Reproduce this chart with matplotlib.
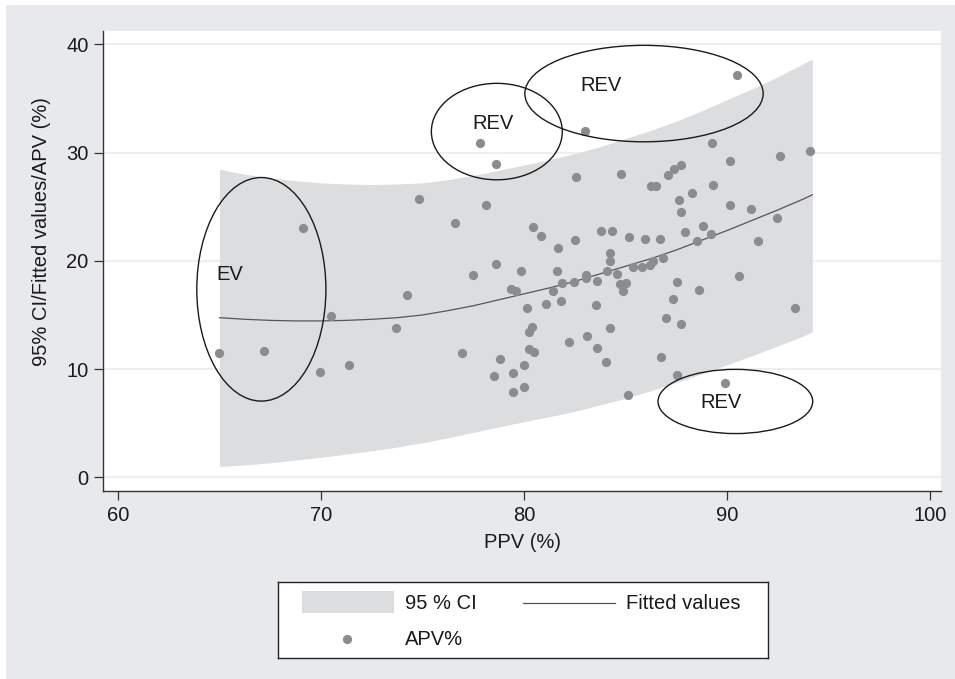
import matplotlib
matplotlib.use("Agg")
import matplotlib.pyplot as plt
from matplotlib.patches import Ellipse, Rectangle

plt.rcParams['font.family'] = ['Liberation Sans', 'DejaVu Sans']

# APV% vs PPV% points
ppv = [77.82, 78.63, 74.85, 78.15, 76.59, 69.11, 78.64, 77.49, 79.84, 90.50,
       83.02, 89.28, 94.07, 92.62, 90.17, 87.72, 87.39, 87.09, 82.56, 84.77,
       86.24, 86.49, 89.33, 88.29, 87.64, 90.17, 91.19, 87.72, 92.47, 80.43,
       80.86, 81.65, 82.51, 83.81, 84.31, 85.17, 85.95, 86.69, 87.93, 88.81,
       89.21, 88.52, 91.52, 84.23, 84.23, 86.87, 86.37, 86.21, 85.80, 85.37,
       84.60, 84.10, 83.03, 83.03, 81.62, 90.59, 81.88, 82.44, 83.61, 79.34,
       79.58, 81.45, 81.80, 81.08, 80.14, 83.53, 84.73, 85.04, 84.87, 87.55,
       88.61, 87.34, 93.34, 87.01, 87.73, 84.23, 80.39, 80.24, 82.21, 83.12,
       83.60, 84.02, 80.24, 80.48, 78.84, 80.02, 79.45, 80.02, 79.45, 85.11,
       86.73, 87.55, 89.90, 64.98, 67.17, 69.96, 71.36, 70.51, 73.68, 74.24,
       76.93, 78.54]
apv = [30.84, 28.97, 25.71, 25.19, 23.47, 23.04, 19.72, 18.65, 19.07, 37.17,
       31.98, 30.84, 30.17, 29.68, 29.18, 28.85, 28.48, 27.95, 27.71, 28.05,
       26.94, 26.94, 27.03, 26.23, 25.65, 25.19, 24.82, 24.48, 23.93, 23.10,
       22.27, 21.20, 21.94, 22.73, 22.73, 22.24, 22.03, 21.99, 22.64, 23.22,
       22.49, 21.87, 21.87, 20.76, 20.03, 20.24, 20.03, 19.57, 19.45, 19.47,
       18.83, 19.08, 18.72, 18.37, 19.10, 18.56, 17.94, 18.09, 18.18, 17.42,
       17.26, 17.17, 16.31, 15.97, 15.67, 15.88, 17.82, 17.97, 17.20, 18.09,
       17.33, 16.50, 15.67, 14.75, 14.13, 13.82, 13.92, 13.46, 12.50, 13.02,
       11.95, 10.66, 11.89, 11.58, 10.97, 10.38, 9.61, 8.35, 7.86, 7.61,
       11.12, 9.43, 8.72, 11.49, 11.67, 9.77, 10.38, 14.87, 13.79, 16.80,
       11.49, 9.37]

# fitted curve and 95% band, read at these PPV values
fit_x = [65, 66.25, 67.5, 68.75, 70, 71.25, 72.5, 73.75, 75, 76.25, 77.5, 78.75,
         80, 81.25, 82.5, 83.75, 85, 86.25, 87.5, 88.75, 90, 91.25, 92.5, 93.75, 94.2]
fit_y = [14.75, 14.6, 14.5, 14.45, 14.45, 14.5, 14.6, 14.75, 15.0, 15.4, 15.85, 16.4,
         16.95, 17.5, 18.1, 18.8, 19.5, 20.2, 21.0, 21.9, 22.8, 23.75, 24.7, 25.7, 26.1]
ci_hi = [28.45, 28.0, 27.65, 27.4, 27.2, 27.1, 27.05, 27.1, 27.2, 27.5, 27.9, 28.35,
         28.85, 29.35, 29.9, 30.55, 31.3, 32.05, 32.9, 33.85, 34.9, 35.9, 37.0, 38.2, 38.65]
ci_lo = [1.0, 1.15, 1.35, 1.6, 1.85, 2.15, 2.45, 2.8, 3.2, 3.65, 4.15, 4.65,
         5.15, 5.6, 6.1, 6.7, 7.3, 8.0, 8.75, 9.55, 10.4, 11.25, 12.15, 13.05, 13.45]

# circled groups: (label, centre x, centre y, width, height, text x, text y)
groups = [("EV", 67.06, 17.37, 6.36, 20.65, 65.52, 18.74),
          ("REV", 78.66, 31.94, 6.45, 8.91, 78.48, 32.68),
          ("REV", 85.91, 35.45, 11.74, 8.91, 83.81, 36.16),
          ("REV", 90.41, 7.01, 7.62, 5.93, 89.69, 6.91)]

xticks = [60, 70, 80, 90, 100]
yticks = [0, 10, 20, 30, 40]

W, H = 955, 679
bg = '#e8e9ec'
band_col = '#dcdddf'
dot_col = '#8b8c8f'
txt = '#1a1a1a'
fs = 14.5

fig = plt.figure(figsize=(W / 100, H / 100), dpi=100, facecolor='white')
fig.patches.append(Rectangle((6 / W, 0), 1, 1 - 5 / H, transform=fig.transFigure,
                             facecolor=bg, edgecolor='none', zorder=-10))

ax = fig.add_axes([103 / W, 1 - 491 / H, (941 - 103) / W, (491 - 31) / H])
ax.set_facecolor('white')
ax.set_xlim(59.26, 100.54)
ax.set_ylim(-1.26, 41.23)

for t in yticks:
    ax.axhline(t, color='#ebebeb', lw=1.2, zorder=0)

ax.fill_between(fit_x, ci_lo, ci_hi, color=band_col, lw=0, zorder=1)
ax.plot(fit_x, fit_y, color='#555555', lw=0.9, zorder=2)
ax.scatter(ppv, apv, s=44, color=dot_col, lw=0, zorder=3)

for lab, cx, cy, w, h, tx, ty in groups:
    ax.add_patch(Ellipse((cx, cy), w, h, fill=False, edgecolor=txt, lw=1.0, zorder=4))
    ax.text(tx, ty, lab, fontsize=fs, color=txt, ha='center', va='center', zorder=5)

for s in ['top', 'right']:
    ax.spines[s].set_visible(False)
for s in ['left', 'bottom']:
    ax.spines[s].set_color('#333333')
    ax.spines[s].set_linewidth(1.0)

ax.set_xticks(xticks)
ax.set_yticks(yticks)
ax.tick_params(length=6.5, width=0.9, color='#333333', labelsize=fs, labelcolor=txt, pad=4)
ax.set_xlabel('PPV (%)', fontsize=fs, color=txt, labelpad=6)
ax.set_ylabel('95% CI/Fitted values/APV (%)', fontsize=fs, color=txt)
ax.yaxis.set_label_coords(-0.062, 0.565)

# legend box drawn by hand in pixel units
lg = fig.add_axes([277.7 / W, 1 - 657.7 / H, 490 / W, 76 / H])
lg.set_xlim(0, 490)
lg.set_ylim(76, 0)
lg.set_facecolor('white')
lg.set_xticks([])
lg.set_yticks([])
for s in lg.spines.values():
    s.set_color('#222222')
    s.set_linewidth(1.0)
lg.add_patch(Rectangle((24, 9.5), 92, 21.5, facecolor=band_col, edgecolor='none'))
lg.text(127.3, 21.3, '95 % CI', fontsize=fs, va='center', color=txt)
lg.plot([245.6, 337.3], [21.3, 21.3], color='#555555', lw=0.9)
lg.text(348, 21.3, 'Fitted values', fontsize=fs, va='center', color=txt)
lg.scatter([69], [57.6], s=44, color=dot_col, lw=0)
lg.text(127.3, 57.6, 'APV%', fontsize=fs, va='center', color=txt)

fig.savefig('out.png', dpi=100, facecolor=fig.get_facecolor())
